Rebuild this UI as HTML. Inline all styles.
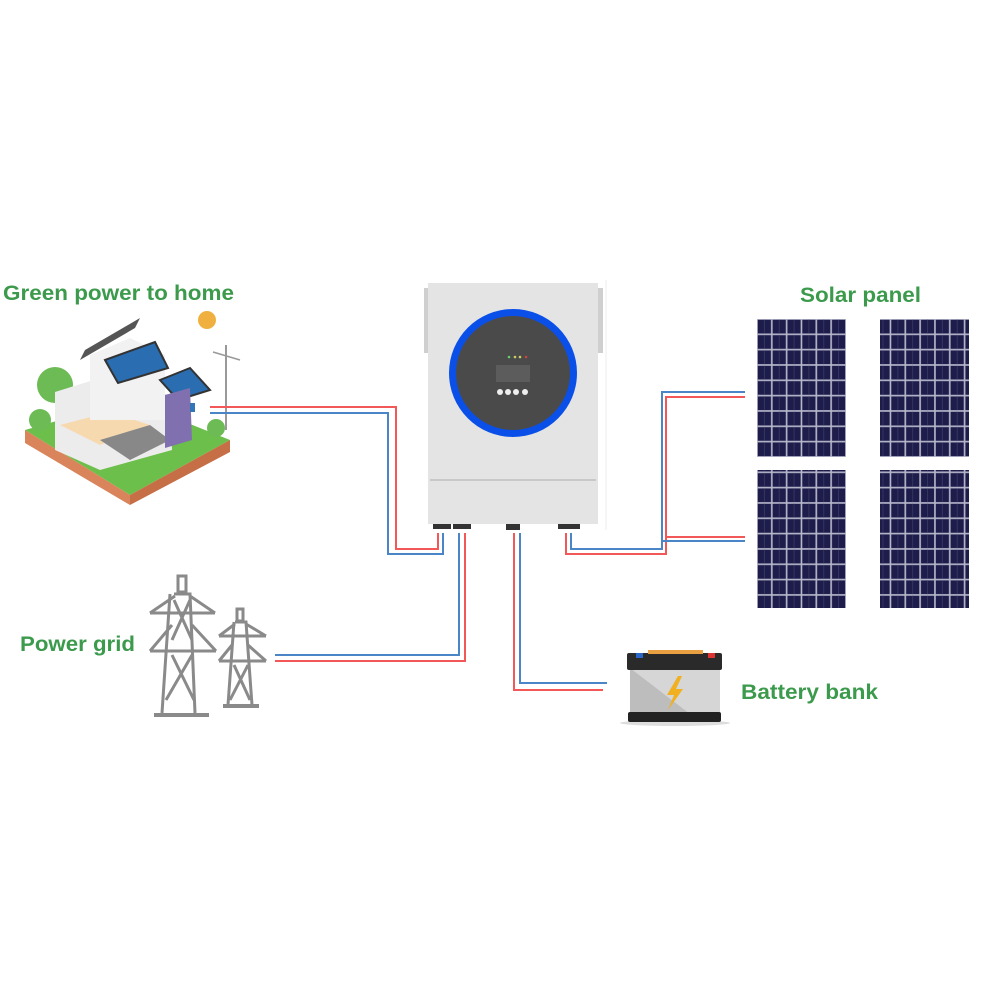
<!DOCTYPE html>
<html><head><meta charset="utf-8"><style>
html,body{margin:0;padding:0;background:#fff}
svg{display:block}
text{font-family:"Liberation Sans",sans-serif;font-weight:bold;fill:#3c9a4c;font-size:21px}
</style></head><body>
<svg width="999" height="999" viewBox="0 0 999 999" xmlns="http://www.w3.org/2000/svg">
<text x="3" y="300" textLength="231" lengthAdjust="spacingAndGlyphs">Green power to home</text>
<text x="800" y="302" textLength="121" lengthAdjust="spacingAndGlyphs">Solar panel</text>
<text x="20" y="651" textLength="115" lengthAdjust="spacingAndGlyphs">Power grid</text>
<text x="741" y="699" textLength="137" lengthAdjust="spacingAndGlyphs">Battery bank</text>

<!-- house -->
<g>
<path d="M25 430 L130 400 L230 440 L130 495 Z" fill="#6cbf4a"/>
<path d="M25 430 L130 495 L130 505 L25 443 Z" fill="#d9845a"/>
<path d="M130 495 L230 440 L230 452 L130 505 Z" fill="#c66e45"/>
<circle cx="55" cy="385" r="18" fill="#6dbb55"/>
<circle cx="40" cy="420" r="11" fill="#6dbb55"/>
<circle cx="216" cy="428" r="9" fill="#6dbb55"/>
<path d="M55 392 L100 378 L170 395 L172 450 L100 470 L55 450 Z" fill="#ececec"/>
<path d="M60 425 L110 412 L150 425 L100 445 Z" fill="#f7d9b0"/>
<path d="M100 440 L150 425 L170 440 L130 460 Z" fill="#888"/>
<path d="M90 355 L130 338 L165 355 L165 420 L90 420 Z" fill="#f2f2f2"/>
<path d="M80 360 L135 328 L140 318 L85 350 Z" fill="#555"/>
<path d="M105 360 L155 342 L168 368 L118 383 Z" fill="#2a6db0" stroke="#333" stroke-width="2"/>
<path d="M160 380 L190 368 L210 390 L178 400 Z" fill="#2a6db0" stroke="#333" stroke-width="2"/>
<path d="M165 395 L190 388 L192 440 L165 448 Z" fill="#8070b0"/>
<rect x="190" y="403" width="5" height="9" fill="#3375b5"/>
<circle cx="207" cy="320" r="9" fill="#f0b040"/>
<line x1="226" y1="345" x2="226" y2="430" stroke="#999" stroke-width="2"/>
<line x1="213" y1="352" x2="240" y2="360" stroke="#999" stroke-width="1.5"/>
</g>

<!-- towers -->
<g stroke="#8a8a8a" stroke-width="3" fill="none">
<rect x="178" y="576" width="8" height="16"/>
<path d="M174 594 L190 594 L195 713 M170 594 L162 713 M150 613 L215 613 M150 651 L216 651 M150 613 L175 596 M215 613 L190 596 M150 651 L172 625 M216 651 L192 625 M174 600 L192 640 M190 600 L172 640 M172 655 L194 700 M192 655 L166 700"/>
<line x1="154" y1="715" x2="209" y2="715" stroke-width="4"/>
<rect x="237" y="609" width="6" height="12"/>
<path d="M235 622 L246 622 L252 705 M234 622 L228 705 M219 636 L266 636 M219 661 L266 661 M219 636 L235 624 M266 636 L246 624 M219 661 L232 645 M266 661 L248 645 M234 665 L250 700 M248 665 L230 700"/>
<line x1="223" y1="706" x2="259" y2="706" stroke-width="4"/>
</g>

<!-- inverter -->
<rect x="424" y="288" width="5" height="65" fill="#cfcfcf"/>
<rect x="598" y="288" width="5" height="65" fill="#cfcfcf"/>
<line x1="606" y1="280" x2="606" y2="530" stroke="#eee" stroke-width="1"/>
<rect x="428" y="283" width="170" height="241" fill="#e4e4e4"/>
<line x1="430" y1="480" x2="596" y2="480" stroke="#c8c8c8" stroke-width="2"/>
<circle cx="513" cy="373" r="64" fill="#0a50e8"/>
<circle cx="513" cy="373" r="57" fill="#4a4a4a"/>
<rect x="496" y="365" width="34" height="17" fill="#5c5c5c"/>
<circle cx="500" cy="392" r="3" fill="#eee"/><circle cx="508" cy="392" r="3" fill="#eee"/>
<circle cx="516" cy="392" r="3" fill="#eee"/><circle cx="525" cy="392" r="3" fill="#eee"/>
<circle cx="509" cy="357" r="1.3" fill="#6c6"/><circle cx="515" cy="357" r="1.3" fill="#cc6"/><circle cx="520" cy="357" r="1.3" fill="#cc6"/><circle cx="526" cy="357" r="1.3" fill="#c44"/>
<rect x="433" y="524" width="18" height="5" fill="#333"/>
<rect x="453" y="524" width="18" height="5" fill="#333"/>
<rect x="506" y="524" width="14" height="6" fill="#333"/>
<rect x="558" y="524" width="22" height="5" fill="#333"/>

<!-- wires -->
<g fill="none" stroke-width="2">
<polyline points="210,407 396,407 396,549 438,549 438,533" stroke="#f25858"/>
<polyline points="210,413 388,413 388,554 443,554 443,533" stroke="#4a85c8"/>
<polyline points="459,533 459,655 275,655" stroke="#4a85c8"/>
<polyline points="465,533 465,661 275,661" stroke="#f25858"/>
<polyline points="514,533 514,690 603,690" stroke="#f25858"/>
<polyline points="520,533 520,683 607,683" stroke="#4a85c8"/>
<polyline points="571,533 571,549 662,549 662,392 745,392" stroke="#4a85c8"/>
<polyline points="566,533 566,554 666,554 666,397 745,397" stroke="#f25858"/>
<polyline points="666,537 745,537" stroke="#f25858"/>
<polyline points="662,541 745,541" stroke="#4a85c8"/>
</g>

<!-- solar panels -->
<defs>
<pattern id="cells" x="757" y="319" width="14.83" height="15.33" patternUnits="userSpaceOnUse">
<rect width="14.83" height="15.33" fill="#b8b8cc"/>
<rect x="0.8" y="0.8" width="13.2" height="13.7" fill="#1d1c4a"/>
<rect x="7" y="0.8" width="0.8" height="13.7" fill="#3a3a66"/>
</pattern>
</defs>
<rect x="757" y="319" width="89" height="138" fill="url(#cells)"/>
<rect x="880" y="319" width="89" height="138" fill="url(#cells)"/>
<rect x="757" y="470" width="89" height="138" fill="url(#cells)"/>
<rect x="880" y="470" width="89" height="138" fill="url(#cells)"/>

<!-- battery -->
<ellipse cx="675" cy="723" rx="55" ry="3" fill="#ddd"/>
<rect x="630" y="668" width="90" height="46" fill="#d6d6d6"/>
<path d="M630 668 L690 714 L630 714 Z" fill="#bdbdbd"/>
<rect x="627" y="653" width="95" height="17" rx="2" fill="#2a2a2a"/>
<rect x="636" y="653" width="7" height="5" fill="#2a66c8"/>
<rect x="708" y="653" width="7" height="5" fill="#d33"/>
<rect x="648" y="650" width="55" height="4" fill="#e8a040"/>
<rect x="628" y="712" width="93" height="10" rx="2" fill="#222"/>
<path d="M678 676 L667 695 L674 695 L668 710 L683 689 L676 689 L682 676 Z" fill="#f0b020"/>
</svg>
</body></html>
